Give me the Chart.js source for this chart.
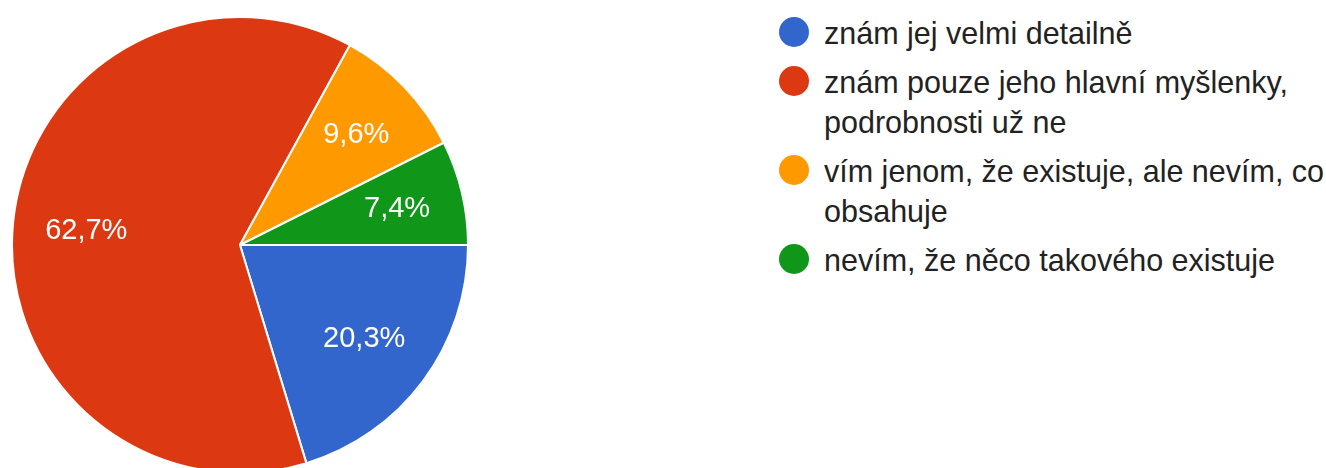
<!DOCTYPE html>
<html>
<head>
<meta charset="utf-8">
<script src="https://cdn.jsdelivr.net/npm/chart.js@4/dist/chart.umd.min.js"></script>
<style>
  html, body { margin: 0; padding: 0; background: #fff; width: 1326px; height: 468px; overflow: hidden; }
  #wrap { position: absolute; left: 11px; top: 16px; width: 458px; height: 458px; }
  #legend { position: absolute; left: 779px; top: 13px; font-family: "Liberation Sans", Arial, sans-serif; font-size: 30.5px; color: #222; }
  .item { display: flex; align-items: flex-start; margin-bottom: 9px; }
  .dot { width: 30px; height: 30px; border-radius: 50%; flex: none; margin-top: 4px; margin-right: 15px; }
  .txt { line-height: 40px; white-space: nowrap; }
</style>
</head>
<body>
<div id="wrap"><canvas id="c"></canvas></div>
<div id="legend"></div>
<script>
const categories = [
  ["znám jej velmi detailně"],
  ["znám pouze jeho hlavní myšlenky,", "podrobnosti už ne"],
  ["vím jenom, že existuje, ale nevím, co", "obsahuje"],
  ["nevím, že něco takového existuje"]
];
const values = [20.3, 62.7, 9.6, 7.4];
const valueLabels = ["20,3%", "62,7%", "9,6%", "7,4%"];
const colors = ["#3366cc", "#dc3912", "#ff9900", "#109618"];

// HTML legend
const legend = document.getElementById('legend');
categories.forEach((lines, i) => {
  const item = document.createElement('div');
  item.className = 'item';
  const dot = document.createElement('span');
  dot.className = 'dot';
  dot.style.background = colors[i];
  const txt = document.createElement('div');
  txt.className = 'txt';
  lines.forEach((l, j) => {
    if (j) txt.appendChild(document.createElement('br'));
    txt.appendChild(document.createTextNode(l));
  });
  item.appendChild(dot);
  item.appendChild(txt);
  legend.appendChild(item);
});

const sliceLabels = {
  id: 'sliceLabels',
  afterDatasetsDraw(chart) {
    const ctx = chart.ctx;
    const meta = chart.getDatasetMeta(0);
    ctx.save();
    ctx.fillStyle = '#ffffff';
    ctx.font = '29px "Liberation Sans", Arial, sans-serif';
    ctx.textAlign = 'center';
    ctx.textBaseline = 'middle';
    meta.data.forEach((arc, i) => {
      const p = arc.getProps(['x', 'y', 'startAngle', 'endAngle', 'outerRadius'], true);
      const span = p.endAngle - p.startAngle;
      const mid = (p.startAngle + p.endAngle) / 2;
      // narrow slices push their label a little further out
      const r = p.outerRadius * (span < Math.PI / 3 ? 0.708 : 0.678);
      ctx.fillText(valueLabels[i], p.x + Math.cos(mid) * r, p.y + Math.sin(mid) * r + 1.5);
    });
    ctx.restore();
  }
};

new Chart(document.getElementById('c'), {
  type: 'pie',
  data: {
    labels: categories.map(l => l.join(' ')),
    datasets: [{
      data: values,
      backgroundColor: colors,
      borderColor: '#ffffff',
      borderWidth: 2
    }]
  },
  options: {
    responsive: true,
    maintainAspectRatio: false,
    animation: false,
    rotation: 90,
    layout: { padding: 0 },
    plugins: { legend: { display: false }, tooltip: { enabled: false } }
  },
  plugins: [sliceLabels]
});
</script>
</body>
</html>
